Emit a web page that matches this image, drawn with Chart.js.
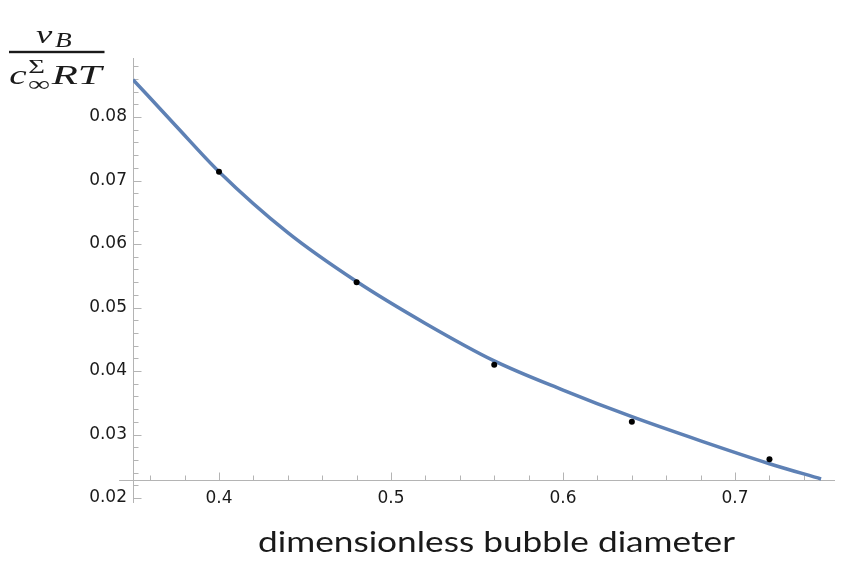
<!DOCTYPE html>
<html>
<head>
<meta charset="utf-8">
<script src="https://cdn.jsdelivr.net/npm/chart.js@4"></script>
<style>
  html, body { margin: 0; padding: 0; background: #ffffff; }
  #wrap { width: 851px; height: 563px; }
</style>
</head>
<body>
<div id="wrap"><canvas id="c" width="851" height="563"></canvas></div>
<script>
// ---- data ----
const curveX = [0.35, 0.375, 0.40, 0.44, 0.48, 0.52, 0.56, 0.60, 0.64, 0.68, 0.72, 0.75];
const curveY = [0.0859, 0.0786, 0.0714, 0.0618, 0.0541, 0.0475, 0.0416, 0.0370, 0.0328, 0.0290, 0.0254, 0.0230];
const pointX = [0.40, 0.48, 0.56, 0.64, 0.72];
const pointY = [0.0714, 0.0540, 0.0410, 0.0320, 0.0261];
const xTickLabels = ['0.4', '0.5', '0.6', '0.7'];
const yTickLabels = ['0.02', '0.03', '0.04', '0.05', '0.06', '0.07', '0.08'];
const xTitle = 'dimensionless bubble diameter';

const AXIS_COLOR = '#b4b4b4';
const TEXT_COLOR = '#1a1a1a';
const X_MIN = 0.35, X_MAX = 0.7581;
const Y_MIN = 0.02, Y_MAX = 0.0893;
const X_AXIS_CROSS = 0.0229;

function stretchText(ctx, text, font, left, right, baseline) {
  ctx.save();
  ctx.font = font;
  const w = ctx.measureText(text).width;
  const sx = (right - left) / w;
  ctx.translate(left, baseline);
  ctx.scale(sx, 1);
  ctx.textAlign = 'left';
  ctx.textBaseline = 'alphabetic';
  ctx.fillStyle = TEXT_COLOR;
  ctx.fillText(text, 0, 0);
  ctx.restore();
}

const mmaAxes = {
  id: 'mmaAxes',
  beforeDatasetsDraw(chart) {
    const { ctx } = chart;
    const xs = chart.scales.x, ys = chart.scales.y;
    const x0 = Math.round(xs.getPixelForValue(X_MIN)) + 0.5;
    const yc = Math.round(ys.getPixelForValue(X_AXIS_CROSS)) + 0.5;
    ctx.save();
    ctx.strokeStyle = AXIS_COLOR;
    ctx.lineWidth = 1;
    ctx.beginPath();
    ctx.moveTo(x0, ys.top);
    ctx.lineTo(x0, ys.bottom + 5);
    ctx.moveTo(xs.getPixelForValue(0.3419), yc);
    ctx.lineTo(xs.right, yc);
    for (let i = 0; i <= 34; i++) {
      const v = Y_MIN + i * 0.002;
      const len = (i % 5 === 0) ? 8 : 5;
      const py = Math.round(ys.getPixelForValue(v)) + 0.5;
      ctx.moveTo(x0, py);
      ctx.lineTo(x0 + len, py);
    }
    for (let i = 0; i <= 19; i++) {
      const v = 0.36 + i * 0.02;
      const major = Math.abs(v * 10 - Math.round(v * 10)) < 1e-6;
      const len = major ? 8 : 5;
      const px = Math.round(xs.getPixelForValue(v)) + 0.5;
      ctx.moveTo(px, yc);
      ctx.lineTo(px, yc - len);
    }
    ctx.stroke();
    ctx.restore();
  },
  afterDraw(chart) {
    const { ctx } = chart;
    const serifI = (s) => 'italic ' + s + 'px "Liberation Serif", "DejaVu Serif", serif';
    const serif = (s) => s + 'px "Liberation Serif", "DejaVu Serif", serif';
    stretchText(ctx, 'v', serifI(26), 36, 52.3, 43.3);
    stretchText(ctx, 'B', serifI(20), 55, 71.7, 47.3);
    ctx.save();
    ctx.fillStyle = TEXT_COLOR;
    ctx.fillRect(9, 50.8, 95.5, 2.4);
    ctx.restore();
    stretchText(ctx, 'c', serifI(28), 9.3, 26.7, 84);
    stretchText(ctx, 'Σ', serif(19), 28.3, 45, 73.3);
    stretchText(ctx, '∞', serif(21), 27.7, 50, 91);
    stretchText(ctx, 'RT', serifI(28), 51.7, 101.7, 84);
    stretchText(ctx, xTitle, '28px Lato, "Open Sans", sans-serif', 258, 735, 551.7);
  }
};

const curveData = curveX.map((x, i) => ({ x: x, y: curveY[i] }));
const pointData = pointX.map((x, i) => ({ x: x, y: pointY[i] }));

new Chart(document.getElementById('c'), {
  type: 'scatter',
  data: {
    datasets: [
      {
        type: 'line',
        data: curveData,
        borderColor: '#5e81b5',
        borderWidth: 3.5,
        pointRadius: 0,
        fill: false,
        cubicInterpolationMode: 'monotone',
        order: 2
      },
      {
        type: 'scatter',
        data: pointData,
        backgroundColor: '#000000',
        borderColor: '#000000',
        pointRadius: 3,
        borderWidth: 0,
        order: 1
      }
    ]
  },
  options: {
    responsive: false,
    animation: false,
    events: [],
    layout: { padding: { top: 58, right: 16, left: 0, bottom: 0 } },
    plugins: { legend: { display: false }, tooltip: { enabled: false }, title: { display: false } },
    scales: {
      x: {
        type: 'linear',
        min: X_MIN,
        max: X_MAX,
        grid: { display: false, drawTicks: false },
        border: { display: false },
        ticks: {
          stepSize: 0.1,
          includeBounds: false,
          mirror: true,
          padding: -11,
          maxRotation: 0,
          color: TEXT_COLOR,
          font: { family: '"DejaVu Sans", sans-serif', size: 17 },
          callback: function (v) {
            const idx = Math.round(v * 10) - 4;
            return xTickLabels[idx] !== undefined ? xTickLabels[idx] : '';
          }
        },
        afterFit: function (s) { s.height = 65; }
      },
      y: {
        type: 'linear',
        min: Y_MIN,
        max: Y_MAX,
        grid: { display: false, drawTicks: false },
        border: { display: false },
        ticks: {
          stepSize: 0.01,
          includeBounds: false,
          padding: 6,
          color: TEXT_COLOR,
          font: { family: '"DejaVu Sans", sans-serif', size: 17 },
          callback: function (v) {
            const idx = Math.round(v * 100) - 2;
            return yTickLabels[idx] !== undefined ? yTickLabels[idx] : '';
          }
        },
        afterFit: function (s) { s.width = 133; }
      }
    }
  },
  plugins: [mmaAxes]
});
</script>
</body>
</html>
